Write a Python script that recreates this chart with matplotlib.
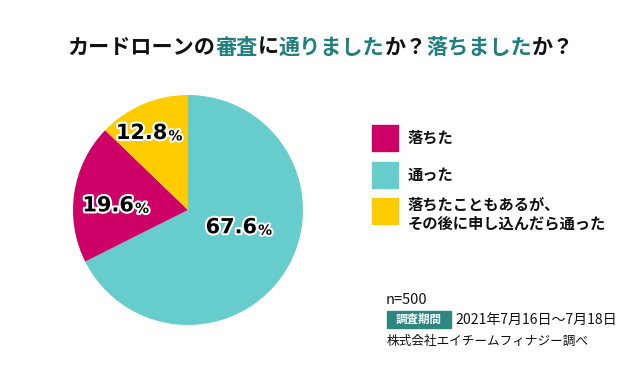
import matplotlib
matplotlib.use("Agg")
import matplotlib.pyplot as plt
import matplotlib.patheffects as pe

plt.rcParams['font.family'] = ['Noto Sans CJK JP', 'DejaVu Sans']

# data
labels = ["通った", "落ちた", "落ちたこともあるが、\nその後に申し込んだら通った"]
values = [67.6, 19.6, 12.8]
colors = ["#66CCCC", "#CC0066", "#FFCC00"]
legend_labels = ["落ちた", "通った", "落ちたこともあるが、\nその後に申し込んだら通った"]
legend_colors = ["#CC0066", "#66CCCC", "#FFCC00"]

title_parts = [("カードローンの", "k"), ("審査", "t"), ("に", "k"), ("通りました", "t"),
               ("か？", "k"), ("落ちました", "t"), ("か？", "k")]
teal = "#1F7F7F"

fig = plt.figure(figsize=(6.4, 3.68), dpi=100)
W, H = 640, 368

# pie
ax = fig.add_axes([73 / W, (158 - 115) / H, 230 / W, 230 / H])
wedges, _ = ax.pie(values, colors=colors, startangle=90, counterclock=False,
                   wedgeprops=dict(linewidth=0))
ax.set_xlim(-1, 1)
ax.set_ylim(-1, 1)
ax.set_aspect('equal')

# where the number meets the % sign, in pie radius units
label_xy = [(0.60, -0.15), (-0.47, 0.04), (-0.18, 0.67)]
stroke = [pe.withStroke(linewidth=3, foreground="white")]
for v, (x, y) in zip(values, label_xy):
    ax.text(x, y, f"{v:.1f}", ha="right", va="center", fontsize=15,
            fontweight="black", color="black", path_effects=stroke,
            family=["DejaVu Sans"])
    ax.text(x + 0.01, y - 0.03, "%", ha="left", va="center", fontsize=10,
            fontweight="bold", color="black", path_effects=stroke, family=["DejaVu Sans"])

# title with mixed colours
fig.canvas.draw()
renderer = fig.canvas.get_renderer()
texts = []
for s, c in title_parts:
    t = fig.text(0, 1 - 47 / H, s, fontsize=15.2, fontweight="bold",
                 color="#111111" if c == "k" else teal, va="center", ha="left")
    texts.append(t)
widths = [t.get_window_extent(renderer).width for t in texts]
x0 = 321 - sum(widths) / 2
for t, w in zip(texts, widths):
    t.set_x(x0 / W)
    x0 += w

# legend
ys = [138, 175, 211]
for lab, col, yc in zip(legend_labels, legend_colors, ys):
    fig.patches.append(plt.Rectangle((372 / W, (H - yc - 13) / H), 26 / W, 26 / H,
                                     transform=fig.transFigure, color=col))
    ty = yc if "\n" not in lab else yc + 3
    fig.text(408 / W, 1 - ty / H, lab, fontsize=11, fontweight="bold", va="center",
             ha="left", color="#111111", linespacing=1.2)

# footnotes
fig.text(386 / W, 1 - 300 / H, "n=500", fontsize=10.5, va="center", color="#111111")
fig.patches.append(plt.Rectangle((387 / W, (H - 328) / H), 64 / W, 17 / H,
                                 transform=fig.transFigure, color="#2E8682"))
fig.text(419 / W, 1 - 319.5 / H, "調査期間", fontsize=8.3, va="center", ha="center",
         color="white", fontweight="bold")
fig.text(455 / W, 1 - 319.5 / H, "2021年7月16日〜7月18日", fontsize=10.1, va="center",
         color="#111111")
fig.text(387 / W, 1 - 341 / H, "株式会社エイチームフィナジー調べ", fontsize=9.1,
         va="center", color="#111111")

fig.savefig("out.png", dpi=100)
